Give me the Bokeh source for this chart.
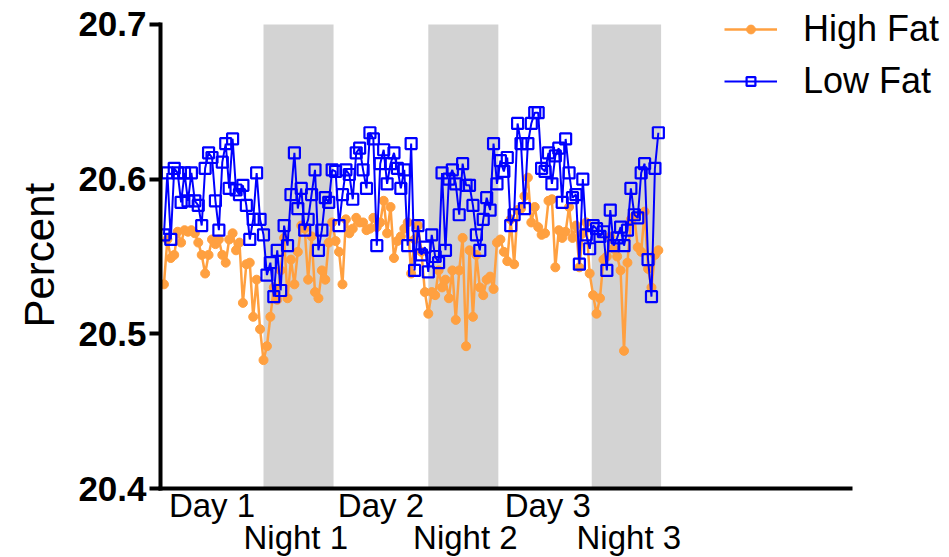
from bokeh.plotting import figure
from bokeh.models import Range1d, FixedTicker, LinearAxis, Legend, LegendItem, PrintfTickFormatter, Title
from bokeh.embed import file_html
from bokeh.resources import INLINE

# time in hours, one reading every 30 minutes
hours = [0.5 * i for i in range(145)]

high_fat = [
    20.532, 20.561, 20.549, 20.551, 20.566, 20.559, 20.567, 20.566, 20.567, 20.565,
    20.559, 20.551, 20.539, 20.551, 20.561, 20.558, 20.561, 20.551, 20.546, 20.561,
    20.565, 20.554, 20.559, 20.520, 20.545, 20.546, 20.511, 20.535, 20.503, 20.483,
    20.492, 20.511, 20.530, 20.522, 20.541, 20.562, 20.523, 20.548, 20.532, 20.553,
    20.570, 20.568, 20.535, 20.563, 20.527, 20.523, 20.541, 20.535, 20.559, 20.572,
    20.560, 20.553, 20.532, 20.574, 20.565, 20.568, 20.575, 20.572, 20.572, 20.567,
    20.568, 20.575, 20.569, 20.572, 20.586, 20.565, 20.582, 20.549, 20.560, 20.563,
    20.568, 20.572, 20.539, 20.561, 20.570, 20.553, 20.527, 20.513, 20.527, 20.525,
    20.541, 20.530, 20.535, 20.523, 20.541, 20.509, 20.541, 20.562, 20.492, 20.554,
    20.511, 20.551, 20.530, 20.525, 20.535, 20.537, 20.529, 20.559, 20.561, 20.553,
    20.547, 20.574, 20.545, 20.580, 20.581, 20.589, 20.601, 20.572, 20.582, 20.569,
    20.564, 20.565, 20.586, 20.587, 20.543, 20.567, 20.562, 20.566, 20.582, 20.562,
    20.570, 20.543, 20.565, 20.572, 20.539, 20.525, 20.513, 20.523, 20.548, 20.550,
    20.563, 20.555, 20.550, 20.541, 20.489, 20.546, 20.574, 20.576, 20.556, 20.553,
    20.579, 20.542, 20.530, 20.551, 20.554,
]

low_fat = [
    20.564, 20.604, 20.561, 20.607, 20.604, 20.585, 20.604, 20.586, 20.604, 20.586,
    20.583, 20.570, 20.607, 20.617, 20.614, 20.586, 20.567, 20.611, 20.623, 20.594,
    20.626, 20.593, 20.590, 20.596, 20.583, 20.561, 20.574, 20.604, 20.574, 20.564,
    20.538, 20.546, 20.524, 20.554, 20.528, 20.570, 20.557, 20.590, 20.617, 20.581,
    20.594, 20.567, 20.574, 20.590, 20.606, 20.554, 20.567, 20.588, 20.585, 20.606,
    20.605, 20.570, 20.590, 20.606, 20.603, 20.587, 20.617, 20.620, 20.606, 20.594,
    20.630, 20.626, 20.557, 20.610, 20.619, 20.597, 20.610, 20.617, 20.607, 20.594,
    20.606, 20.557, 20.623, 20.541, 20.570, 20.551, 20.556, 20.540, 20.564, 20.550,
    20.546, 20.604, 20.554, 20.600, 20.606, 20.597, 20.577, 20.610, 20.596, 20.596,
    20.583, 20.564, 20.554, 20.574, 20.588, 20.580, 20.623, 20.597, 20.612, 20.605,
    20.614, 20.570, 20.577, 20.636, 20.623, 20.581, 20.623, 20.636, 20.643, 20.643,
    20.607, 20.605, 20.617, 20.597, 20.615, 20.620, 20.585, 20.626, 20.604, 20.588,
    20.590, 20.545, 20.600, 20.564, 20.555, 20.570, 20.568, 20.563, 20.566, 20.541,
    20.580, 20.557, 20.562, 20.569, 20.557, 20.567, 20.594, 20.577, 20.575, 20.604,
    20.610, 20.548, 20.524, 20.607, 20.630,
]

night_start = [14.5, 38.5, 62.3]
night_end = [24.7, 48.7, 72.4]

day_ticks = [7.0, 31.6, 55.9]
day_labels = ["Day 1", "Day 2", "Day 3"]
night_ticks = [19.2, 43.9, 67.7]
night_labels = ["Night 1", "Night 2", "Night 3"]
y_ticks = [20.4, 20.5, 20.6, 20.7]
x_axis_span = (-0.5, 100)

FONT = "Liberation Sans"

# frame extends past the drawn axes (to the right and top) so the legend is not clipped
p = figure(output_backend="svg", toolbar_location=None,
           frame_width=789, frame_height=488,
           min_border_left=160, min_border_right=0, min_border_top=0, min_border_bottom=69,
           x_range=Range1d(x_axis_span[0], 114.4),
           y_range=Range1d(y_ticks[0], 20.7155))
p.outline_line_color = None
p.grid.visible = False
p.background_fill_color = "white"

p.quad(left=night_start, right=night_end,
       bottom=[y_ticks[0]] * len(night_start), top=[y_ticks[-1]] * len(night_start),
       fill_color="#D3D3D3", line_color=None)

hf_line = p.line(hours, high_fat, line_color="#FFA040", line_width=2.5)
hf_pts = p.scatter(hours, high_fat, marker="circle", size=9,
                   fill_color="#FFA040", line_color="#FFA040")
lf_line = p.line(hours, low_fat, line_color="#0000FF", line_width=2)
lf_pts = p.scatter(hours, low_fat, marker="square", size=11,
                   fill_color=None, line_color="#0000FF", line_width=2.2)

# y axis
ya = p.yaxis[0]
ya.bounds = (y_ticks[0], y_ticks[-1])
ya.ticker = FixedTicker(ticks=y_ticks)
ya.formatter = PrintfTickFormatter(format="%.1f")
ya.major_label_text_font = FONT
ya.major_label_text_font_style = "bold"
ya.major_label_text_font_size = "35px"
ya.major_label_text_color = "black"
ya.axis_line_width = 4
ya.axis_line_cap = "square"
ya.major_tick_line_width = 4
ya.major_tick_out = 11
ya.major_tick_in = 0
ya.major_label_standoff = 3
ya.minor_tick_line_color = None

# y axis title, placed along the drawn axis span
ytitle = Title(text="Percent", align="left", offset=161, standoff=25,
               text_font=FONT, text_font_style="normal", text_font_size="42px",
               text_color="black")
p.add_layout(ytitle, "left")

# x axis (day labels)
xa = p.xaxis[0]
xa.bounds = x_axis_span
xa.ticker = FixedTicker(ticks=day_ticks)
xa.major_label_overrides = dict(zip(day_ticks, day_labels))
xa.major_label_text_font = FONT
xa.major_label_text_font_size = "33px"
xa.major_label_text_color = "black"
xa.axis_line_width = 4
xa.axis_line_cap = "square"
xa.major_tick_line_color = None
xa.major_tick_out = 0
xa.major_tick_in = 0
xa.minor_tick_line_color = None
xa.major_label_standoff = -2

# second row of x labels (night labels)
na = LinearAxis(ticker=FixedTicker(ticks=night_ticks),
                major_label_overrides=dict(zip(night_ticks, night_labels)),
                axis_line_color=None, major_tick_line_color=None,
                minor_tick_line_color=None, major_tick_out=0, major_tick_in=0,
                major_label_standoff=-8,
                major_label_text_font=FONT, major_label_text_font_size="33px",
                major_label_text_color="black")
p.add_layout(na, "below")

legend = Legend(items=[LegendItem(label="High Fat", renderers=[hf_line, hf_pts]),
                       LegendItem(label="Low Fat", renderers=[lf_line, lf_pts])],
                location=(564, 386), orientation="vertical",
                glyph_width=53, glyph_height=22, label_height=40,
                label_standoff=26, spacing=10, padding=0, margin=0,
                border_line_color=None, background_fill_alpha=0,
                label_text_font=FONT, label_text_font_size="36px",
                label_text_color="black")
p.add_layout(legend)

open("out.html", "w").write(file_html(p, INLINE))
